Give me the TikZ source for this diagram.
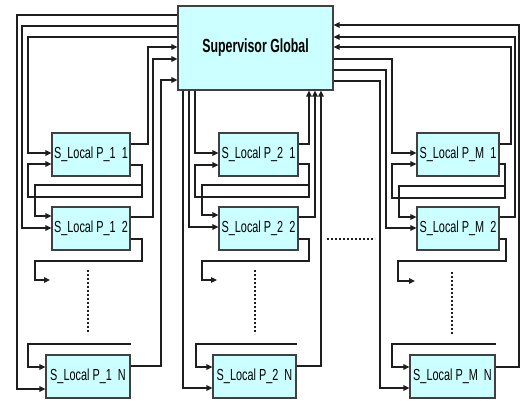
\documentclass[tikz,border=0pt]{standalone}
\usepackage{fontspec}
\setmainfont{Liberation Sans}
\usetikzlibrary{arrows.meta}
\definecolor{boxfill}{RGB}{204,255,255}
\definecolor{wirecol}{RGB}{30,30,30}
\tikzset{
  wire/.style={line width=1.3pt, draw=wirecol},
  arr/.style={wire, -{Triangle[length=6pt,width=5.5pt]}},
  dotline/.style={line width=2pt, draw=wirecol, dash pattern=on 2pt off 2pt},
  locbox/.style={draw=wirecol!85, line width=1.2pt, fill=boxfill, inner sep=0pt,
    minimum height=43pt, font=\fontsize{16}{16}\selectfont},
  supbox/.style={draw=wirecol!85, line width=1.2pt, fill=boxfill, inner sep=0pt,
    minimum width=155pt, minimum height=84pt, font=\fontsize{19}{19}\selectfont\bfseries}
}
\newcommand{\loclabel}[2]{\scalebox{0.68}[1]{S\_Local P\_#1~~#2}}
\begin{document}
\begin{tikzpicture}[x=1pt,y=-1pt]
\useasboundingbox[fill=white] (0,0) rectangle (520,402);

% boxes
\node[supbox] (sg) at (255.5,48) {\scalebox{0.65}[1]{Supervisor Global}};
\node[locbox, minimum width=78pt] (b11) at (91,154.5) {\loclabel{1}{1}};
\node[locbox, minimum width=78pt] (b12) at (91,228.5) {\loclabel{1}{2}};
\node[locbox, minimum width=84pt] (b1n) at (88,376.5) {\loclabel{1}{N}};
\node[locbox, minimum width=79pt] (b21) at (258.5,154.5) {\loclabel{2}{1}};
\node[locbox, minimum width=79pt] (b22) at (258.5,228.5) {\loclabel{2}{2}};
\node[locbox, minimum width=83pt] (b2n) at (254.5,376.5) {\loclabel{2}{N}};
\node[locbox, minimum width=82pt] (bm1) at (458,154.5) {\loclabel{M}{1}};
\node[locbox, minimum width=82pt] (bm2) at (458,228.5) {\loclabel{M}{2}};
\node[locbox, minimum width=85pt] (bmn) at (452.5,376.5) {\loclabel{M}{N}};

\coordinate (d1) at (50,280);
\coordinate (d2) at (217,280);
\coordinate (d3) at (415,281);

% ---------- column 1 ----------
\draw[arr] (sg.west |- 0,15) -| (17,389) -- (b1n.west |- 0,389);
\draw[arr] (sg.west |- 0,26) -| (22,228) -- (b12.west |- 0,228);
\draw[arr] (sg.west |- 0,37) -| (28,153) -- (b11.west |- 0,153);
\draw[arr] (b11.east |- 0,144) -| (148,47) -- (sg.west |- 0,47);
\draw[arr] (b12.east |- 0,217) -| (153,59) -- (sg.west |- 0,59);
\draw[arr] (b1n.east |- 0,366) -| (161,80) -- (sg.west |- 0,80);
\draw[arr] (b11.east |- 0,165) -| (142,185) -- (35,185) -- (35,216) -- (b12.west |- 0,216);
\draw[arr] (b11.east |- 0,165) -| (142,197) -| (28,164) -- (b11.west |- 0,164);
\draw[arr] (b12.east |- 0,239) -| (142,261) -| (35,280) -- (d1);
\draw[arr] (b1n.east |- 0,344) -| (28,367) -- (b1n.west |- 0,367);
\draw[dotline] (88,270) -- (88,334);

% ---------- column 2 ----------
\draw[arr] (sg.south -| 195,0) -- (195,153) -- (b21.west |- 0,153);
\draw[arr] (sg.south -| 189,0) -- (189,227) -- (b22.west |- 0,227);
\draw[arr] (sg.south -| 183,0) -- (183,388) -- (b2n.west |- 0,388);
\draw[arr] (b21.east |- 0,144) -| (sg.south -| 309,0);
\draw[arr] (b22.east |- 0,217) -| (sg.south -| 315,0);
\draw[arr] (b2n.east |- 0,366) -| (sg.south -| 321,0);
\draw[arr] (b21.east |- 0,164) -| (309,185) -- (202,185) -- (202,215) -- (b22.west |- 0,215);
\draw[arr] (b21.east |- 0,164) -| (309,197) -| (195,165) -- (b21.west |- 0,165);
\draw[arr] (b22.east |- 0,239) -| (309,261) -| (202,280) -- (d2);
\draw[arr] (b2n.east |- 0,344) -| (196,367) -- (b2n.west |- 0,367);
\draw[dotline] (255,270) -- (255,334);

% horizontal dots between columns
\draw[dotline] (327,239) -- (375,239);

% ---------- column 3 ----------
\draw[arr] (sg.east |- 0,59) -| (392,153) -- (bm1.west |- 0,153);
\draw[arr] (sg.east |- 0,70) -| (386,228) -- (bm2.west |- 0,228);
\draw[arr] (sg.east |- 0,81) -| (380,388) -- (bmn.west |- 0,388);
\draw[arr] (bm1.east |- 0,144) -| (511,47) -- (sg.east |- 0,47);
\draw[arr] (bm2.east |- 0,217) -| (515,37) -- (sg.east |- 0,37);
\draw[arr] (bmn.east |- 0,367) -| (519,25) -- (sg.east |- 0,25);
\draw[arr] (bm1.east |- 0,164) -| (505,186) -- (399,186) -- (399,217) -- (bm2.west |- 0,217);
\draw[arr] (bm1.east |- 0,164) -| (505,198) -| (392,164) -- (bm1.west |- 0,164);
\draw[arr] (bm2.east |- 0,239) -| (506,261) -| (398,281) -- (d3);
\draw[arr] (bmn.east |- 0,344) -| (392,367) -- (bmn.west |- 0,367);
\draw[dotline] (452,272) -- (452,334);
\end{tikzpicture}
\end{document}
